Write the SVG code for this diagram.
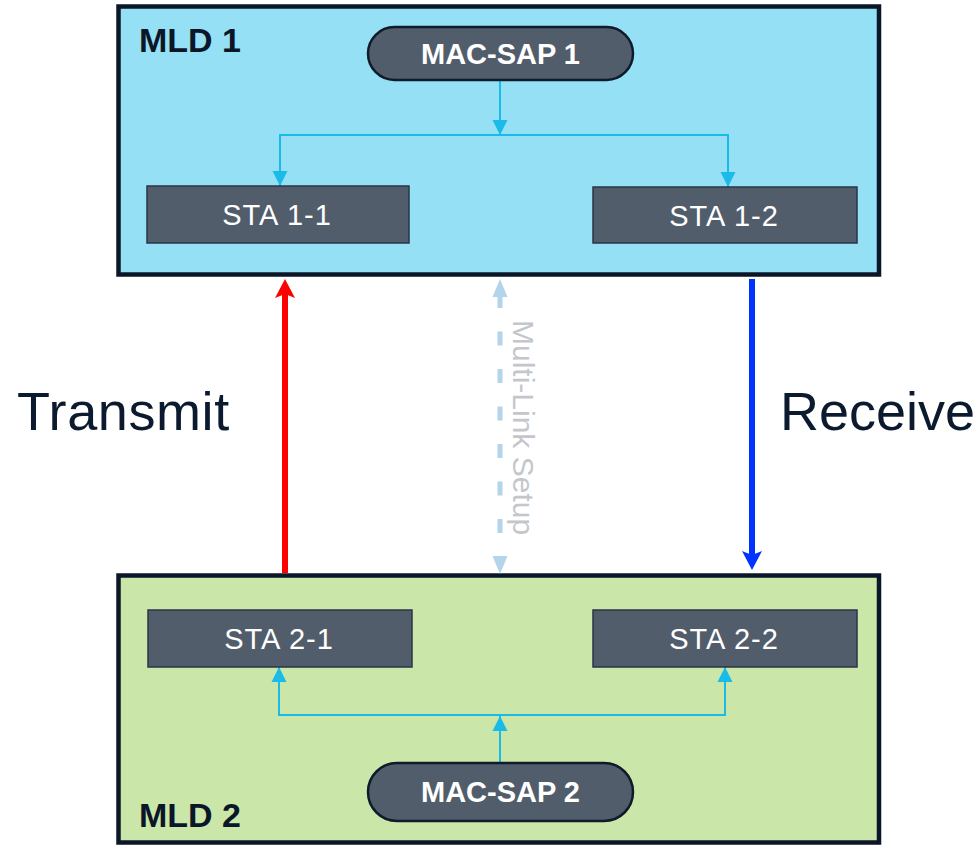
<svg xmlns="http://www.w3.org/2000/svg" width="979" height="845" viewBox="0 0 979 845">
<style>
.mld{stroke:#0b1628;stroke-width:4.5}
.title{font-family:"Liberation Sans",Arial,sans-serif;font-weight:bold;font-size:34px;fill:#0b1628}
.pill{fill:#525d6b;stroke:#0f1b2b;stroke-width:2.5}
.pilltxt{font-family:"Liberation Sans",Arial,sans-serif;font-weight:bold;font-size:29px;fill:#ffffff;text-anchor:middle}
.sta{fill:#525d6b;stroke:#2a3545;stroke-width:1.5}
.statxt{font-family:"Liberation Sans",Arial,sans-serif;font-size:29px;fill:#ffffff;text-anchor:middle;letter-spacing:1px}
.conn{fill:none;stroke:#1bbbe9;stroke-width:2}
.big{font-family:"Liberation Sans",Arial,sans-serif;font-size:54px;fill:#0b1a2e}
</style>
<defs>
<marker id="cy" markerUnits="userSpaceOnUse" markerWidth="16" markerHeight="16" viewBox="0 0 16 16" refX="15" refY="8" orient="auto">
<path d="M0,0.5 L15,8 L0,15.5 Z" fill="#1bbbe9"/>
</marker>
</defs>
<rect width="979" height="845" fill="#ffffff"/>
<g id="mld1">
<rect class="mld" x="118.5" y="6.5" width="760.5" height="268" fill="#96e0f5"/>
<text class="title" x="139" y="52">MLD 1</text>
</g>
<g id="mld2">
<rect class="mld" x="118.5" y="575.5" width="760.5" height="267" fill="#cae6a9"/>
<text class="title" x="139" y="827">MLD 2</text>
</g>
<g id="connectors">
<path class="conn" d="M500,80 V135" marker-end="url(#cy)"/>
<path class="conn" d="M500,135 H280 V186" marker-end="url(#cy)"/>
<path class="conn" d="M500,135 H728 V187" marker-end="url(#cy)"/>
<path class="conn" d="M500,763 V716" marker-end="url(#cy)"/>
<path class="conn" d="M500,715 H279 V667" marker-end="url(#cy)"/>
<path class="conn" d="M500,715 H725 V667" marker-end="url(#cy)"/>
<g id="transmit">
<line x1="285" y1="573" x2="285" y2="294" stroke="#ff0000" stroke-width="6"/>
<path d="M285,279 L295,298 L285,294 L275,298 Z" fill="#ff0000"/>
</g>
<g id="receive">
<line x1="752" y1="279" x2="752" y2="555" stroke="#0033ff" stroke-width="6"/>
<path d="M752,570 L742,551 L752,555 L762,551 Z" fill="#0033ff"/>
</g>
<g id="setup" opacity="0.9">
<line x1="500" y1="294" x2="500" y2="560" stroke="#acd0e8" stroke-width="5" stroke-dasharray="14 23.5"/>
<path d="M500,279 L507.5,297 L492.5,297 Z" fill="#acd0e8"/>
<path d="M500,574 L507.5,556 L492.5,556 Z" fill="#acd0e8"/>
</g>
</g>
<g id="mac-sap-1">
<rect class="pill" x="368" y="27" width="265" height="53" rx="26.5"/>
<text class="pilltxt" x="500.5" y="64">MAC-SAP 1</text>
</g>
<g id="sta-1-1">
<rect class="sta" x="147" y="186" width="262" height="57"/>
<text class="statxt" x="277" y="225">STA 1-1</text>
</g>
<g id="sta-1-2">
<rect class="sta" x="593" y="187" width="264" height="56"/>
<text class="statxt" x="724" y="226">STA 1-2</text>
</g>
<g id="sta-2-1">
<rect class="sta" x="148" y="610" width="264" height="57"/>
<text class="statxt" x="279" y="649">STA 2-1</text>
</g>
<g id="sta-2-2">
<rect class="sta" x="593" y="610" width="264" height="57"/>
<text class="statxt" x="724" y="649">STA 2-2</text>
</g>
<g id="mac-sap-2">
<rect class="pill" x="368" y="763" width="265" height="58" rx="29"/>
<text class="pilltxt" x="500.5" y="802">MAC-SAP 2</text>
</g>
<text class="big" x="17" y="430" letter-spacing="0.6">Transmit</text>
<text class="big" x="780" y="430">Receive</text>
<text transform="translate(513,320) rotate(90)" font-family="'Liberation Sans',Arial,sans-serif" font-size="30" fill="#c3c7cc">Multi-Link Setup</text>
</svg>
